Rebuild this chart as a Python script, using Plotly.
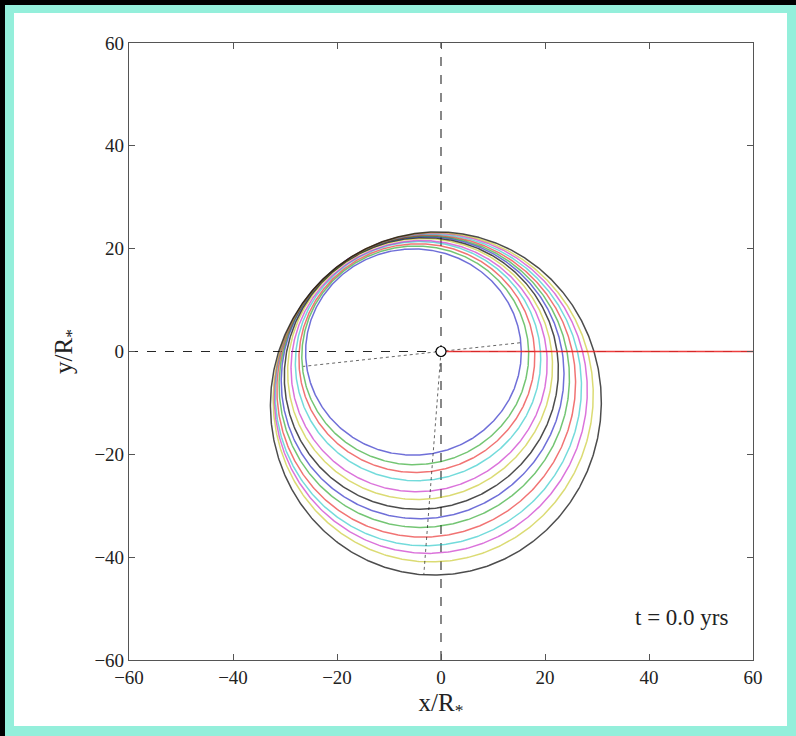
import numpy as np
import plotly.graph_objects as go

# ---------------- data ----------------
orbit_colors = ["b", "g", "r", "c", "m", "y", "k", "b", "g", "r", "c", "m", "y", "k"]
# axis intercepts of each orbit (x at y=0 right/left, y at x=0 top/bottom), units of R*
right_x = [15.5, 17.0, 18.2, 19.4, 20.5, 21.5, 22.5, 23.4, 24.3, 25.3, 26.3, 27.3, 28.3, 29.5]
left_x = [-26.2, -27.1, -27.7, -28.5, -29.0, -29.6, -30.0, -30.3, -30.5, -30.7, -30.9, -31.0, -31.1, -31.3]
top_y = [19.2, 19.8, 20.3, 20.7, 21.1, 21.5, 21.8, 22.1, 22.3, 22.5, 22.7, 22.9, 23.0, 23.2]
bottom_y = [-19.4, -21.2, -22.7, -24.2, -26.5, -28.0, -30.0, -32.0, -33.8, -35.8, -37.5, -39.0, -40.6, -43.3]

# dotted reference lines
inner_apsis_x = [15.2, 0.0, -26.5]
inner_apsis_y = [1.7, 0.0, -2.9]
outer_apsis_x = [0.0, -3.3]
outer_apsis_y = [0.0, -43.3]

# red ray along +x
ray_x = [0.0, 60.0]
ray_y = [0.0, 0.0]

star_x = [0.0]
star_y = [0.0]

tick_vals = [-60, -40, -20, 0, 20, 40, 60]
tick_text = ["\u221260", "\u221240", "\u221220", "0", "20", "40", "60"]
time_label = "t = 0.0 yrs"

# ---------------- styling ----------------
cmap = {
    "b": "rgba(50,50,200,0.7)",
    "g": "rgba(0,150,0,0.55)",
    "r": "rgba(230,0,0,0.55)",
    "c": "rgba(0,190,190,0.55)",
    "m": "rgba(190,0,190,0.55)",
    "y": "rgba(190,190,0,0.55)",
    "k": "rgba(0,0,0,0.7)",
}
FONT = "Liberation Serif"

W, H = 796, 736
ML, MR, MT, MB = 129, 43, 43, 76
PW, PH = W - ML - MR, H - MT - MB


def px2paper_x(px):
    return (px - ML) / PW


def px2paper_y(py):
    return (H - MB - py) / PH


fig = go.Figure()

axis_common = dict(
    range=[-60, 60], tickmode="array", tickvals=tick_vals, ticktext=tick_text,
    showgrid=False, zeroline=False, showline=True, linecolor="#555", linewidth=1.2,
    mirror="ticks", ticks="inside", ticklen=6, tickwidth=1, tickcolor="#555",
    tickfont=dict(family=FONT, size=19, color="#222"),
)

fig.update_layout(
    width=W, height=H,
    margin=dict(l=ML, r=MR, t=MT, b=MB),
    paper_bgcolor="black",
    plot_bgcolor="white",
    xaxis=dict(**axis_common,
               title=dict(text="x/R<sub>*</sub>", font=dict(family=FONT, size=25, color="#222"),
                          standoff=6)),
    yaxis=dict(**axis_common,
               title=dict(text="y/R<sub>*</sub>", font=dict(family=FONT, size=25, color="#222"),
                          standoff=14)),
    annotations=[dict(text=time_label, xref="paper", yref="paper",
                      x=0.965, y=0.045, xanchor="right", yanchor="bottom",
                      showarrow=False, font=dict(family=FONT, size=23, color="#222"))],
)

# frame: black page edge, turquoise border, white page
fig.add_shape(type="rect", xref="paper", yref="paper", layer="below",
              x0=px2paper_x(5), x1=px2paper_x(W + 2), y0=px2paper_y(5), y1=px2paper_y(H + 2),
              fillcolor="#94efdb", line=dict(width=0))
fig.add_shape(type="rect", xref="paper", yref="paper", layer="below",
              x0=px2paper_x(14), x1=px2paper_x(787), y0=px2paper_y(13), y1=px2paper_y(726),
              fillcolor="white", line=dict(width=0))

# axis reference lines (dashed), beneath the traces
fig.add_hline(y=0, layer="below", line=dict(color="rgba(0,0,0,0.85)", width=1.1, dash="dash"))
fig.add_vline(x=0, layer="below", line=dict(color="rgba(0,0,0,0.85)", width=1.1, dash="dash"))

theta = np.linspace(0, 2 * np.pi, 721)
for rx, lx, ty, by, c in zip(right_x, left_x, top_y, bottom_y, orbit_colors):
    A = (1 / rx + 1 / abs(lx) + 1 / ty + 1 / abs(by)) / 4
    B = (1 / rx - 1 / abs(lx)) / 2
    C = (1 / ty - 1 / abs(by)) / 2
    r = 1.0 / (A + B * np.cos(theta) + C * np.sin(theta))
    fig.add_trace(go.Scatter(
        x=r * np.cos(theta), y=r * np.sin(theta), mode="lines",
        line=dict(color=cmap[c], width=1.5), hoverinfo="skip", showlegend=False))

for xs, ys in [(inner_apsis_x, inner_apsis_y), (outer_apsis_x, outer_apsis_y)]:
    fig.add_trace(go.Scatter(x=xs, y=ys, mode="lines",
                             line=dict(color="rgba(0,0,0,0.6)", width=1, dash="dot"),
                             hoverinfo="skip", showlegend=False))

fig.add_trace(go.Scatter(x=ray_x, y=ray_y, mode="lines",
                         line=dict(color="rgba(235,40,40,0.9)", width=1.3),
                         hoverinfo="skip", showlegend=False))

fig.add_trace(go.Scatter(x=star_x, y=star_y, mode="markers",
                         marker=dict(symbol="circle", size=10, color="white",
                                     line=dict(color="black", width=1.2)),
                         hoverinfo="skip", showlegend=False))

fig.write_html("out.html", config={"displayModeBar": False},
               post_script="document.body.style.margin='0';document.body.style.padding='0';")
